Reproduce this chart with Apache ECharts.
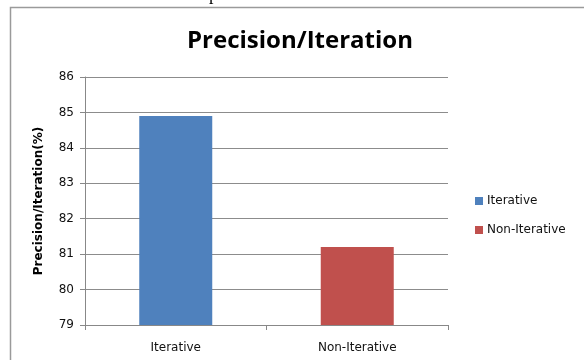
<!DOCTYPE html>
<html>
<head>
<meta charset="utf-8">
<script src="https://cdn.jsdelivr.net/npm/echarts@6/dist/echarts.min.js"></script>
<style>
  html, body { margin: 0; padding: 0; background: #fff; }
  #chart { width: 584px; height: 360px; }
</style>
</head>
<body>
<div id="chart"></div>
<script>
// Chart data
const categories = ['Iterative', 'Non-Iterative'];
const seriesNames = ['Iterative', 'Non-Iterative'];
const seriesValues = [84.9, 81.2];
const seriesColors = ['#4F81BD', '#C0504D'];
const yMin = 79, yMax = 86, yStep = 1;

const labelFont = 'Tahoma, "DejaVu Sans", Verdana, sans-serif';

const chart = echarts.init(document.getElementById('chart'), null, { renderer: 'canvas' });

// One series per category so each bar gets its own legend entry and colour
const series = seriesNames.map((name, i) => ({
  name: name,
  type: 'bar',
  stack: 'all',
  barWidth: 73,
  data: categories.map((c, j) => (j === i ? seriesValues[i] : '-')),
  itemStyle: { color: seriesColors[i] }
}));

chart.setOption({
  animation: false,
  backgroundColor: '#fff',
  title: {
    text: 'Precision/Iteration',
    left: 295,
    textAlign: 'center',
    top: 24,
    textStyle: {
      fontFamily: '"Open Sans", "Liberation Sans", sans-serif',
      fontWeight: 'bold',
      fontSize: 24,
      color: '#000'
    }
  },
  legend: {
    orient: 'vertical',
    left: 470,
    top: 190,
    itemWidth: 8,
    itemHeight: 8,
    itemGap: 17,
    icon: 'rect',
    textStyle: { fontFamily: labelFont, fontSize: 12, color: '#111', padding: [0, 0, 0, -1] },
    data: seriesNames
  },
  grid: { left: 85, top: 77, width: 363, height: 248, containLabel: false },
  xAxis: {
    type: 'category',
    data: categories,
    axisLine: { lineStyle: { color: '#888', width: 1 } },
    axisTick: { show: true, length: 5, lineStyle: { color: '#888' } },
    axisLabel: { fontFamily: labelFont, fontSize: 12, color: '#111', margin: 17 }
  },
  yAxis: {
    type: 'value',
    min: yMin,
    max: yMax,
    interval: yStep,
    name: 'Precision/Iteration(%)',
    nameLocation: 'middle',
    nameGap: 40,
    nameTextStyle: { fontFamily: labelFont, fontSize: 12, fontWeight: 'bold', color: '#000' },
    axisLine: { show: true, lineStyle: { color: '#888', width: 1 } },
    axisTick: { show: true, length: 5, lineStyle: { color: '#888' } },
    axisLabel: { fontFamily: labelFont, fontSize: 12, color: '#111', margin: 11 },
    splitLine: { show: true, lineStyle: { color: '#8c8c8c', width: 1 } }
  },
  graphic: [
    // surrounding frame of the chart area
    {
      type: 'polyline',
      shape: { points: [[10.5, 362], [10.5, 7.5], [590, 7.5]] },
      style: { stroke: '#9a9a9a', lineWidth: 1.5, fill: null }
    },
    // fragment of the line of text above the frame
    {
      type: 'text',
      left: 209,
      top: -14,
      style: { text: 'p', font: '18px "Liberation Serif", serif', fill: '#000' }
    }
  ],
  series: series
});
</script>
</body>
</html>
